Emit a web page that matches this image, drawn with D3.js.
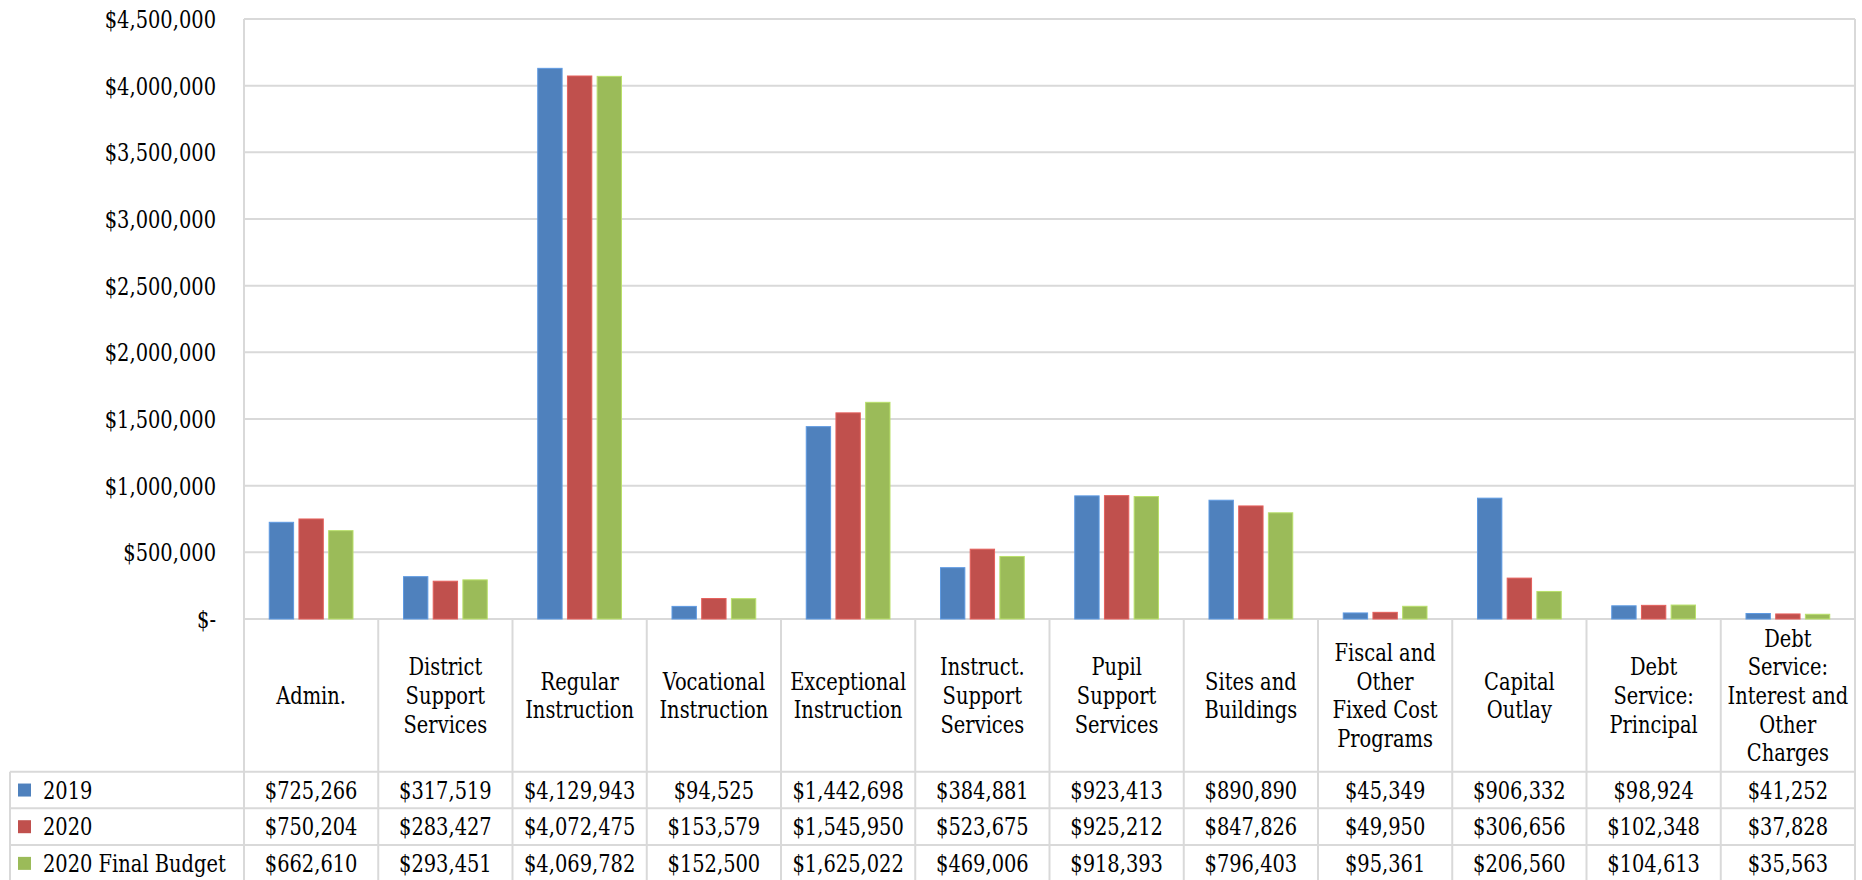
<!DOCTYPE html>
<html>
<head>
<meta charset="utf-8">
<script src="https://cdn.jsdelivr.net/npm/d3@7"></script>
<style>
  html, body { margin: 0; padding: 0; background: #fff; }
  svg { display: block; }
</style>
</head>
<body>
<svg id="chart" width="1862" height="880"></svg>
<script>
// Expenditure categories ("\n" marks line breaks in the table header)
const categories = [
  "Admin.",
  "District\nSupport\nServices",
  "Regular\nInstruction",
  "Vocational\nInstruction",
  "Exceptional\nInstruction",
  "Instruct.\nSupport\nServices",
  "Pupil\nSupport\nServices",
  "Sites and\nBuildings",
  "Fiscal and\nOther\nFixed Cost\nPrograms",
  "Capital\nOutlay",
  "Debt\nService:\nPrincipal",
  "Debt\nService:\nInterest and\nOther\nCharges"
];

const seriesNames = ["2019", "2020", "2020 Final Budget"];
const seriesColors = ["#4F81BD", "#C0504D", "#9BBB59"];

const values2019 = [725266, 317519, 4129943, 94525, 1442698, 384881, 923413, 890890, 45349, 906332, 98924, 41252];
const values2020 = [750204, 283427, 4072475, 153579, 1545950, 523675, 925212, 847826, 49950, 306656, 102348, 37828];
const valuesBudget = [662610, 293451, 4069782, 152500, 1625022, 469006, 918393, 796403, 95361, 206560, 104613, 35563];

const yTicks = [0, 500000, 1000000, 1500000, 2000000, 2500000, 3000000, 3500000, 4000000, 4500000];

const seriesValues = [values2019, values2020, valuesBudget];

// Layout
const plotLeft = 244, plotRight = 1855, plotTop = 19, zeroY = 619;
const headerBottom = 771.7, rowH = 36.67, tableLeft = 10;
const gridColor = "#D9D9D9";
const fontSize = 24, lineH = 28.75;
const serif = "'DejaVu Serif', 'Liberation Serif', serif";
const squeeze = 0.81;   // horizontal condensing of the serif face

const svg = d3.select("#chart");

const y = d3.scaleLinear().domain([0, 4500000]).range([zeroY, plotTop]);
const x = d3.scaleBand().domain(categories).range([plotLeft, plotRight]).padding(0);
const xs = d3.scaleBand().domain(seriesNames).range([-44.55, 44.55]).paddingInner(0.18).paddingOuter(0.09);

const money = v => v === 0 ? "$-" : d3.format("$,")(v);
const place = (px, py) => `translate(${px},${py}) scale(${squeeze},1)`;

// Horizontal gridlines
svg.append("g").selectAll("line").data(yTicks).join("line")
  .attr("x1", plotLeft).attr("x2", plotRight)
  .attr("y1", d => y(d)).attr("y2", d => y(d))
  .attr("stroke", gridColor).attr("stroke-width", 2);

// Y axis labels
const yAxis = d3.axisLeft(y).tickValues(yTicks).tickFormat(money).tickSize(0).tickPadding(28);
const ag = svg.append("g").attr("transform", `translate(${plotLeft},0)`).call(yAxis);
ag.select(".domain").remove();
ag.attr("font-family", serif).attr("font-size", fontSize);
ag.selectAll("text")
  .attr("x", null).attr("dy", "0.36em")
  .attr("transform", place(-28, 0))
  .attr("fill", "#000");

// Bars
const barData = [];
categories.forEach((c, ci) => {
  seriesNames.forEach((s, si) => {
    barData.push({ cat: c, series: s, value: seriesValues[si][ci], color: seriesColors[si] });
  });
});
svg.append("g").selectAll("rect").data(barData).join("rect")
  .attr("x", d => x(d.cat) + x.bandwidth() / 2 + xs(d.series))
  .attr("width", xs.bandwidth())
  .attr("y", d => y(d.value))
  .attr("height", d => zeroY - y(d.value))
  .attr("fill", d => d.color)
  .attr("stroke", d => d3.color(d.color).brighter(0.5))
  .attr("stroke-width", 1);

// Data table grid
const tableBottom = headerBottom + rowH * 3;
const tg = svg.append("g").attr("stroke", gridColor).attr("stroke-width", 2);
tg.append("line").attr("x1", plotLeft).attr("x2", plotLeft).attr("y1", plotTop).attr("y2", tableBottom + 2);
tg.append("line").attr("x1", plotRight).attr("x2", plotRight).attr("y1", plotTop).attr("y2", tableBottom + 2);
categories.slice(1).forEach(c => {
  tg.append("line").attr("x1", x(c)).attr("x2", x(c)).attr("y1", zeroY).attr("y2", tableBottom + 2);
});
tg.append("line").attr("x1", tableLeft).attr("x2", tableLeft).attr("y1", headerBottom).attr("y2", tableBottom + 2);
[0, 1, 2, 3].forEach(i => {
  const yy = headerBottom + rowH * i;
  tg.append("line").attr("x1", tableLeft).attr("x2", plotRight).attr("y1", yy).attr("y2", yy);
});

// Text layer
const txt = svg.append("g").attr("font-family", serif).attr("font-size", fontSize).attr("fill", "#000");

// Header labels
const headerMid = (zeroY + headerBottom) / 2;
categories.forEach(c => {
  const lines = c.split("\n");
  const cx = x(c) + x.bandwidth() / 2;
  const startY = headerMid - (lines.length - 1) * lineH / 2;
  const t = txt.append("text").attr("text-anchor", "middle").attr("transform", place(cx, startY));
  lines.forEach((ln, i) => {
    t.append("tspan").attr("x", 0).attr("y", i * lineH).attr("dy", "0.36em").text(ln);
  });
});

// Legend + value rows
seriesNames.forEach((s, si) => {
  const cy = headerBottom + rowH * si + rowH / 2;
  svg.append("rect").attr("x", 18).attr("y", cy - 6.5).attr("width", 13).attr("height", 13)
    .attr("fill", seriesColors[si]);
  txt.append("text").attr("transform", place(43, cy)).attr("dy", "0.36em").text(s);
  categories.forEach((c, ci) => {
    txt.append("text").attr("transform", place(x(c) + x.bandwidth() / 2, cy)).attr("dy", "0.36em")
      .attr("text-anchor", "middle")
      .text(money(seriesValues[si][ci]));
  });
});
</script>
</body>
</html>
